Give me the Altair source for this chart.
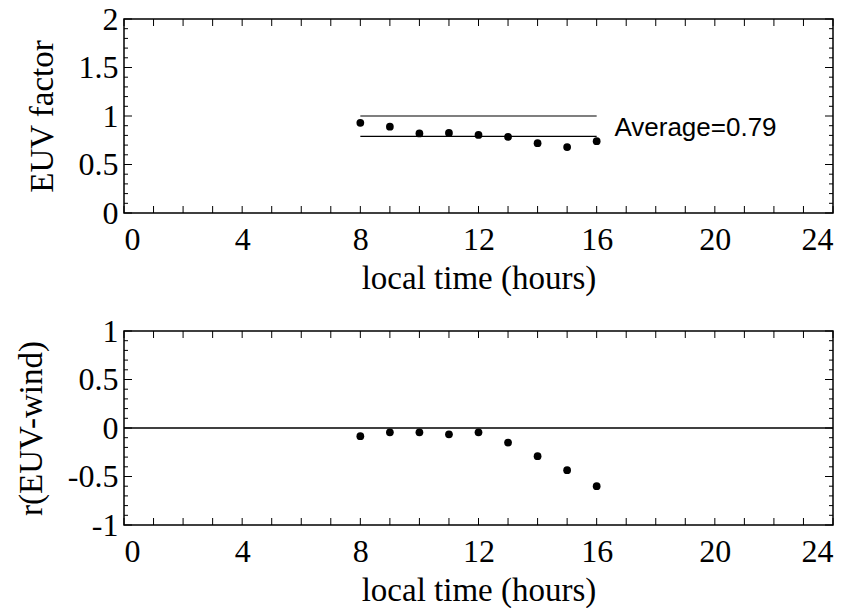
import altair as alt
import pandas as pd

# ---- data ----
hours = [8, 9, 10, 11, 12, 13, 14, 15, 16]
euv_factor = [0.93, 0.89, 0.82, 0.825, 0.805, 0.785, 0.72, 0.68, 0.74]
r_euv_wind = [-0.085, -0.045, -0.045, -0.065, -0.045, -0.15, -0.29, -0.435, -0.60]
average = 0.79
ref_lines_top = [1.0, average]
ref_line_span = [8, 16]
zero_line = [0.0]
annotation = "Average=0.79"
annot_pos = [16.6, 0.88]

x_labels = [0, 4, 8, 12, 16, 20, 24]
x_ticks = [0, 1, 2, 3, 4, 5, 6, 7, 8, 9, 10, 11, 12, 13, 14, 15, 16, 17, 18, 19, 20, 21, 22, 23, 24]
top_y_labels = [0, 0.5, 1, 1.5, 2]
top_y_minor = [0.1, 0.2, 0.3, 0.4, 0.6, 0.7, 0.8, 0.9, 1.1, 1.2, 1.3, 1.4, 1.6, 1.7, 1.8, 1.9]
bot_y_labels = [-1, -0.5, 0, 0.5, 1]
bot_y_minor = [-0.9, -0.8, -0.7, -0.6, -0.4, -0.3, -0.2, -0.1, 0.1, 0.2, 0.3, 0.4, 0.6, 0.7, 0.8, 0.9]

W, H = 709, 194
SERIF = "Liberation Serif"
SANS = "Liberation Sans"


def x_axis():
    return alt.Axis(values=x_labels, title="local time (hours)", grid=False, ticks=False,
                    tickSize=0, domain=False, labelFont=SERIF, labelFontSize=32,
                    labelColor="black", labelPadding=11, labelExpr="datum.value + ''",
                    titleFont=SERIF, titleFontSize=33, titleFontWeight="normal",
                    titleColor="black", titlePadding=7)


def y_axis(values, title):
    return alt.Axis(values=values, title=title, grid=False, ticks=False, tickSize=0,
                    domain=False, labelFont=SERIF, labelFontSize=32, labelColor="black",
                    labelPadding=6, labelExpr="datum.value + ''",
                    titleFont=SERIF, titleFontSize=33, titleFontWeight="normal",
                    titleColor="black", titlePadding=19)


def panel(ydom, ylabels, yminor, ytitle, yvals, extra_layers_fn):
    xs = alt.Scale(domain=[0, 24], nice=False, zero=False)
    ys = alt.Scale(domain=ydom, nice=False, zero=False)
    XA = x_axis()
    YA = y_axis(ylabels, ytitle)

    pts = pd.DataFrame({"x": hours, "y": yvals})
    points = alt.Chart(pts).mark_circle(size=60, color="black", opacity=1).encode(
        x=alt.X("x:Q", scale=xs, axis=XA),
        y=alt.Y("y:Q", scale=ys, axis=YA),
    )

    xt = pd.DataFrame({"x": x_ticks})
    xt_top = alt.Chart(xt).mark_rule(color="black", strokeWidth=1).encode(
        x=alt.X("x:Q", scale=xs, axis=XA), y=alt.value(0), y2=alt.value(7))
    xt_bot = alt.Chart(xt).mark_rule(color="black", strokeWidth=1).encode(
        x=alt.X("x:Q", scale=xs, axis=XA), y=alt.value(H - 7), y2=alt.value(H))

    ymaj = pd.DataFrame({"y": ylabels})
    ymin = pd.DataFrame({"y": yminor})
    layers = [points, xt_top, xt_bot]
    for df, ln in ((ymaj, 8), (ymin, 4)):
        layers.append(alt.Chart(df).mark_rule(color="black", strokeWidth=1).encode(
            y=alt.Y("y:Q", scale=ys, axis=YA), x=alt.value(0), x2=alt.value(ln)))
        layers.append(alt.Chart(df).mark_rule(color="black", strokeWidth=1).encode(
            y=alt.Y("y:Q", scale=ys, axis=YA), x=alt.value(W - ln), x2=alt.value(W)))

    layers += extra_layers_fn(xs, ys, XA, YA)
    return alt.layer(*layers).properties(width=W, height=H)


def top_extras(xs, ys, XA, YA):
    lines = pd.DataFrame({"y": ref_lines_top, "x": [ref_line_span[0]] * 2,
                          "x1": [ref_line_span[1]] * 2})
    rl = alt.Chart(lines).mark_rule(color="black", strokeWidth=1.2).encode(
        x=alt.X("x:Q", scale=xs, axis=XA), x2="x1:Q",
        y=alt.Y("y:Q", scale=ys, axis=YA))
    tdf = pd.DataFrame({"x": [annot_pos[0]], "y": [annot_pos[1]], "t": [annotation]})
    txt = alt.Chart(tdf).mark_text(align="left", baseline="middle", font=SANS,
                                   fontSize=26, color="black").encode(
        x=alt.X("x:Q", scale=xs, axis=XA), y=alt.Y("y:Q", scale=ys, axis=YA),
        text="t:N")
    return [rl, txt]


def bot_extras(xs, ys, XA, YA):
    zl = alt.Chart(pd.DataFrame({"y": zero_line})).mark_rule(
        color="black", strokeWidth=1.3).encode(y=alt.Y("y:Q", scale=ys, axis=YA))
    return [zl]


top = panel([0, 2], top_y_labels, top_y_minor, "EUV factor", euv_factor, top_extras)
bot = panel([-1, 1], bot_y_labels, bot_y_minor, "r(EUV-wind)", r_euv_wind, bot_extras)

chart = alt.vconcat(top, bot, spacing=118, bounds="flush").properties(
    padding={"left": 6, "top": -6, "right": 5, "bottom": 20},
    background="white",
).configure_view(stroke="black", strokeWidth=1.5, fill="white")

chart.save("out.html", embed_options={"renderer": "svg", "actions": False})
